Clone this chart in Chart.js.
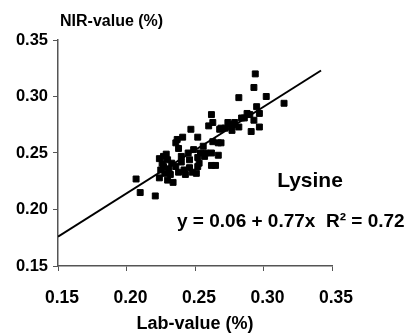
<!DOCTYPE html>
<html>
<head>
<meta charset="utf-8">
<script src="https://cdn.jsdelivr.net/npm/chart.js@4"></script>
<style>
  html, body { margin: 0; padding: 0; background: #fff; }
  #chart { display: block; }
</style>
</head>
<body>
<canvas id="chart" width="409" height="335"></canvas>
<script>
// Lab-value (%) vs NIR-value (%) for lysine
const labX = [
  0.207, 0.210, 0.221, 0.225, 0.227, 0.230, 0.227, 0.232, 0.234, 0.236,
  0.238, 0.240, 0.241, 0.242, 0.246, 0.246, 0.247, 0.249, 0.252, 0.252,
  0.252, 0.254, 0.262, 0.267, 0.265, 0.262, 0.251, 0.263, 0.267, 0.260,
  0.262, 0.263, 0.268, 0.275, 0.279, 0.282, 0.282, 0.286, 0.290, 0.288,
  0.291, 0.293, 0.297, 0.297, 0.294, 0.293, 0.302, 0.315, 0.295, 0.269,
  0.269, 0.284, 0.274, 0.278, 0.277, 0.258, 0.224, 0.226, 0.229, 0.231,
  0.228, 0.233, 0.236, 0.238, 0.243, 0.240, 0.248, 0.253, 0.257, 0.237,
  0.224, 0.230, 0.245, 0.256, 0.272
];
const nirY = [
  0.227, 0.215, 0.212, 0.235, 0.247, 0.244, 0.238, 0.231, 0.224, 0.259,
  0.254, 0.242, 0.264, 0.235, 0.244, 0.237, 0.271, 0.253, 0.264, 0.246,
  0.238, 0.250, 0.250, 0.248, 0.239, 0.239, 0.232, 0.260, 0.259, 0.274,
  0.284, 0.277, 0.271, 0.275, 0.277, 0.273, 0.299, 0.281, 0.284, 0.285,
  0.269, 0.279, 0.285, 0.273, 0.320, 0.308, 0.300, 0.294, 0.291, 0.272,
  0.259, 0.281, 0.277, 0.275, 0.270, 0.250, 0.245, 0.241, 0.249, 0.236,
  0.232, 0.241, 0.238, 0.233, 0.231, 0.247, 0.233, 0.241, 0.247, 0.262,
  0.228, 0.226, 0.250, 0.256, 0.272
];

// regression line y = 0.06 + 0.77x, end points
const fitX = [0.15, 0.342];
const fitY = [0.176, 0.323];

// axis ticks
const tickVals = [0.15, 0.20, 0.25, 0.30, 0.35];

const FONT = "'Liberation Sans', Arial, sans-serif";
Chart.defaults.font.family = FONT;
Chart.defaults.color = '#000';

const points = labX.map((x, i) => ({ x: x, y: nirY[i] }));
const fitLine = fitX.map((x, i) => ({ x: x, y: fitY[i] }));

// extra texts: y title, Lysine, equation
const textPlugin = {
  id: 'texts',
  afterDraw(chart) {
    const c = chart.ctx;
    c.save();
    c.fillStyle = '#000';
    c.textBaseline = 'middle';
    c.font = 'bold 16px ' + FONT;
    c.textAlign = 'left';
    c.fillText('NIR-value (%)', 60, 22);
    c.font = 'bold 21px ' + FONT;
    c.textAlign = 'center';
    c.fillText('Lysine', 310, 181);
    c.font = 'bold 19px ' + FONT;
    c.textAlign = 'left';
    c.fillText('y = 0.06 + 0.77x  R\u00B2 = 0.72', 177, 222);
    c.restore();
  }
};

const ctx = document.getElementById('chart').getContext('2d');
const chart = new Chart(ctx, {
  type: 'scatter',
  data: {
    datasets: [
      {
        label: 'Lysine',
        data: points,
        pointStyle: 'rect',
        pointRadius: 4.2,
        pointBackgroundColor: '#000',
        pointBorderColor: '#000',
        pointBorderWidth: 1
      },
      {
        label: 'fit',
        type: 'line',
        data: fitLine,
        borderColor: '#000',
        borderWidth: 2,
        pointRadius: 0,
        fill: false
      }
    ]
  },
  options: {
    responsive: false,
    animation: false,
    layout: { padding: { top: 40, right: 77, bottom: 0, left: 0 } },
    plugins: {
      legend: { display: false },
      tooltip: { enabled: false }
    },
    scales: {
      x: {
        type: 'linear',
        min: 0.15,
        max: 0.35,
        afterBuildTicks: (s) => { s.ticks = tickVals.map(v => ({ value: v })); },
        afterFit: (s) => { s.height = 69; },
        ticks: {
          callback: (v) => v.toFixed(2),
          font: { size: 17.5, weight: 'bold' },
          padding: 17,
          labelOffset: 4,
          maxRotation: 0
        },
        grid: { drawOnChartArea: false, drawTicks: true, tickLength: 5, color: '#555' },
        border: { color: '#555', width: 1.5 },
        title: {
          display: true,
          text: 'Lab-value (%)',
          font: { size: 18, weight: 'bold' },
          padding: { top: 2, bottom: 0 }
        }
      },
      y: {
        type: 'linear',
        min: 0.15,
        max: 0.35,
        afterBuildTicks: (s) => { s.ticks = tickVals.map(v => ({ value: v })); },
        afterFit: (s) => { s.width = 58; },
        ticks: {
          callback: (v) => v.toFixed(2),
          font: { size: 16.5, weight: 'bold' },
          padding: 5
        },
        grid: { drawOnChartArea: false, drawTicks: true, tickLength: 5, color: '#555' },
        border: { color: '#555', width: 1.5 }
      }
    }
  },
  plugins: [textPlugin]
});
</script>
</body>
</html>
